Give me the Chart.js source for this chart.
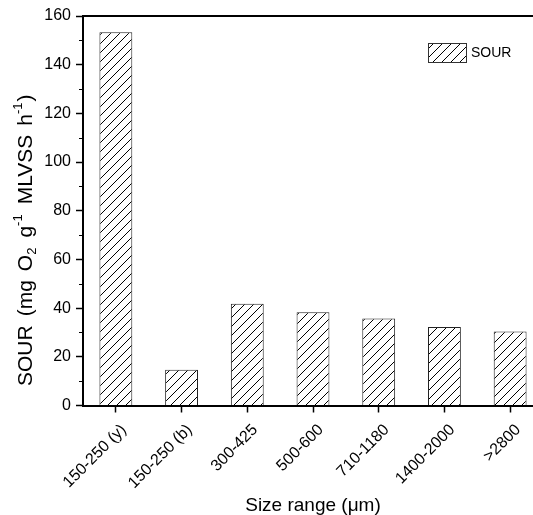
<!DOCTYPE html>
<html>
<head>
<meta charset="utf-8">
<script src="https://cdn.jsdelivr.net/npm/chart.js@4.4.1/dist/chart.umd.min.js"></script>
<style>
  html, body { margin: 0; padding: 0; background: #fff; overflow: hidden; }
  #wrap { width: 548px; height: 515px; position: relative; }
</style>
</head>
<body>
<div id="wrap"><canvas id="c" width="548" height="515"></canvas></div>
<script>
// Specific oxygen uptake rate per granule size class
const categories = ['150-250 (y)', '150-250 (b)', '300-425', '500-600', '710-1180', '1400-2000', '>2800'];
const sourValues = [153.3, 14.7, 41.8, 38.3, 35.7, 32.2, 30.4];
const yTicks = [0, 20, 40, 60, 80, 100, 120, 140, 160];
const yMinorTicks = [10, 30, 50, 70, 90, 110, 130, 150];
const seriesLabel = 'SOUR';
const xTitle = 'Size range (\u03bcm)';

const FONT = "'Liberation Sans', Arial, sans-serif";
const canvas = document.getElementById('c');
const ctx = canvas.getContext('2d');

// diagonal hatch fill for the bars
function makeHatch() {
  const s = 9;
  const t = document.createElement('canvas');
  t.width = s; t.height = s;
  const g = t.getContext('2d');
  g.fillStyle = '#fff';
  g.fillRect(0, 0, s, s);
  g.strokeStyle = '#000';
  g.lineWidth = 1;
  g.beginPath();
  g.moveTo(0, s); g.lineTo(s, 0);
  g.moveTo(-1, 1); g.lineTo(1, -1);
  g.moveTo(s - 1, s + 1); g.lineTo(s + 1, s - 1);
  g.stroke();
  return ctx.createPattern(t, 'repeat');
}
const hatch = makeHatch();

// y-axis title with sub/superscripts, read bottom to top
const yTitleParts = [
  { t: 'SOUR', s: 'n' }, { t: ' ', s: 'gap' },
  { t: '(mg', s: 'n' }, { t: ' ', s: 'gap' },
  { t: 'O', s: 'n' }, { t: '2', s: 'sub' }, { t: ' ', s: 'gap' },
  { t: 'g', s: 'n' }, { t: '-1', s: 'sup' }, { t: ' ', s: 'gap' },
  { t: 'MLVSS', s: 'n' }, { t: ' ', s: 'gap' },
  { t: 'h', s: 'n' }, { t: '-1', s: 'sup' }, { t: ')', s: 'n' }
];

const decorations = {
  id: 'decorations',
  afterDraw(chart) {
    const c = chart.ctx;
    const a = chart.chartArea;
    const y = chart.scales.y;
    c.save();
    // top frame line
    c.strokeStyle = '#000';
    c.lineWidth = 2;
    c.beginPath();
    c.moveTo(a.left - 1, a.top);
    c.lineTo(a.right + 1, a.top);
    c.stroke();
    // minor ticks on the value axis
    c.lineWidth = 1;
    c.beginPath();
    yMinorTicks.forEach(v => {
      const py = Math.round(y.getPixelForValue(v)) + 0.5;
      c.moveTo(a.left - 4, py);
      c.lineTo(a.left, py);
    });
    c.stroke();

    // x title
    c.fillStyle = '#000';
    c.font = '19px ' + FONT;
    c.textAlign = 'center';
    c.textBaseline = 'alphabetic';
    c.fillText(xTitle, (a.left + a.right) / 2, 511);

    // y title
    c.save();
    c.translate(32, 386);
    c.rotate(-Math.PI / 2);
    c.textAlign = 'left';
    let x = 0;
    yTitleParts.forEach(p => {
      if (p.s === 'gap') { x += 9; return; }
      let dy = 0;
      if (p.s === 'n') c.font = '21px ' + FONT;
      else { c.font = '13px ' + FONT; dy = p.s === 'sub' ? 4 : -10; }
      c.fillText(p.t, x, dy);
      x += c.measureText(p.t).width + (p.s === 'n' ? 0 : 1);
    });
    c.restore();

    // legend
    const bx = 428.5, by = 43.5, bw = 38, bh = 19;
    c.fillStyle = chart.data.datasets[0].backgroundColor;
    c.fillRect(bx, by, bw, bh);
    c.strokeStyle = '#333';
    c.lineWidth = 1;
    c.strokeRect(bx, by, bw, bh);
    c.fillStyle = '#000';
    c.font = '14px ' + FONT;
    c.textAlign = 'left';
    c.textBaseline = 'middle';
    c.fillText(chart.data.datasets[0].label, 471, 53.5);
    c.restore();
  }
};

new Chart(ctx, {
  type: 'bar',
  data: {
    labels: categories,
    datasets: [{
      label: seriesLabel,
      data: sourValues,
      backgroundColor: hatch,
      borderColor: '#222',
      borderWidth: 1,
      borderSkipped: 'bottom',
      barPercentage: 0.5,
      categoryPercentage: 1.0
    }]
  },
  options: {
    responsive: false,
    animation: false,
    devicePixelRatio: 1,
    layout: { padding: { top: 16, right: 5, left: 0, bottom: 0 } },
    plugins: { legend: { display: false }, tooltip: { enabled: false } },
    scales: {
      x: {
        offset: true,
        grid: { display: true, offset: false, drawOnChartArea: false, drawTicks: true, tickLength: 7, tickColor: '#000', tickWidth: 1.5 },
        border: { display: true, color: '#000', width: 2 },
        ticks: { color: '#000', font: { family: FONT, size: 16 }, minRotation: 45, maxRotation: 45, padding: 8, labelOffset: 8 },
        afterFit(s) { s.height = 109.5; }
      },
      y: {
        min: 0, max: 160,
        afterBuildTicks(s) { s.ticks = yTicks.map(v => ({ value: v })); },
        grid: { display: true, drawOnChartArea: false, drawTicks: true, tickLength: 7, tickColor: '#000', tickWidth: 1.5 },
        border: { display: true, color: '#000', width: 2 },
        ticks: { color: '#000', font: { family: FONT, size: 16 }, padding: 5 },
        afterFit(s) { s.width = 83; }
      }
    }
  },
  plugins: [decorations]
});
</script>
</body>
</html>
